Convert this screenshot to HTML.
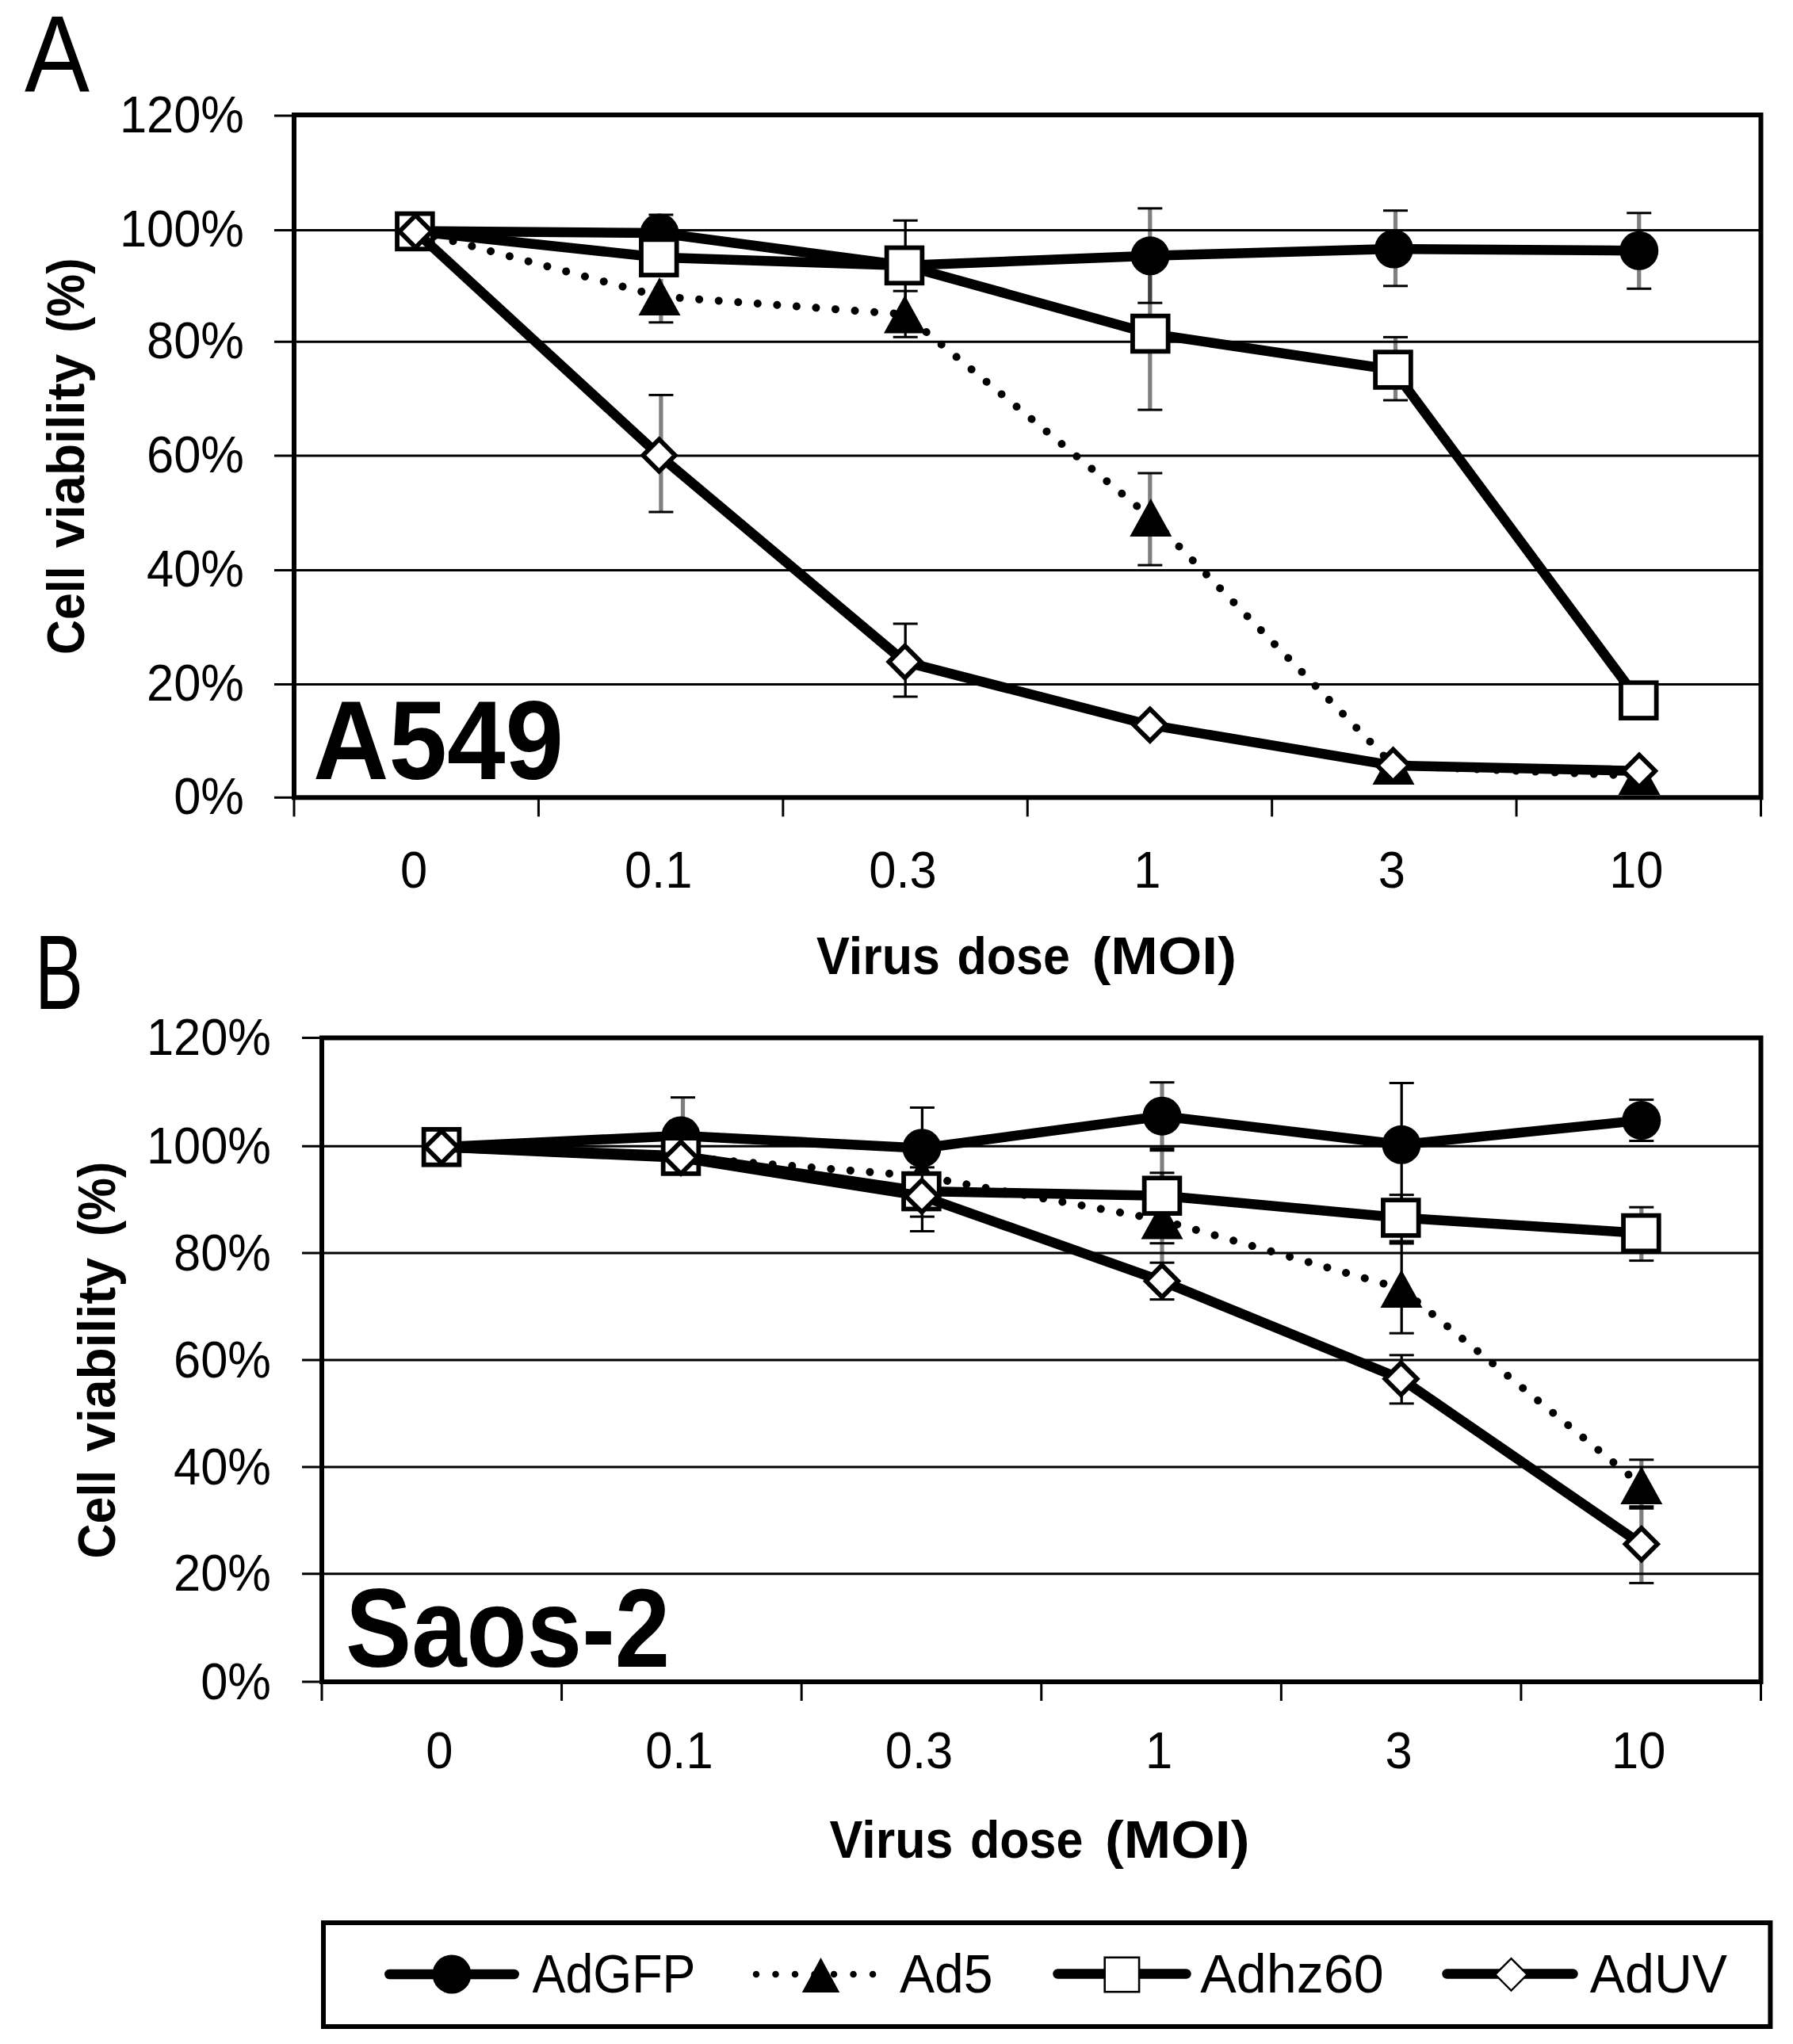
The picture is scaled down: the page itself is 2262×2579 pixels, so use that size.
<!DOCTYPE html>
<html lang="en"><head><meta charset="utf-8"><title>Cell viability vs virus dose</title>
<style>html,body{margin:0;padding:0;background:#fff}svg{display:block;filter:blur(0.7px)}</style></head>
<body>
<svg width="2262" height="2579" viewBox="0 0 2262 2579" font-family="'Liberation Sans', 'DejaVu Sans', sans-serif">
<rect width="2262" height="2579" fill="#fff"/>
<line x1="346.00" y1="290.50" x2="2221.50" y2="290.50" stroke="#000" stroke-width="3" />
<line x1="346.00" y1="431.30" x2="2221.50" y2="431.30" stroke="#000" stroke-width="3" />
<line x1="346.00" y1="575.00" x2="2221.50" y2="575.00" stroke="#000" stroke-width="3" />
<line x1="346.00" y1="719.60" x2="2221.50" y2="719.60" stroke="#000" stroke-width="3" />
<line x1="346.00" y1="863.50" x2="2221.50" y2="863.50" stroke="#000" stroke-width="3" />
<line x1="346.00" y1="146.00" x2="371.00" y2="146.00" stroke="#000" stroke-width="3" />
<line x1="346.00" y1="1006.30" x2="371.00" y2="1006.30" stroke="#000" stroke-width="3" />
<line x1="371.00" y1="1006.30" x2="371.00" y2="1030.30" stroke="#000" stroke-width="3" />
<line x1="679.42" y1="1006.30" x2="679.42" y2="1030.30" stroke="#000" stroke-width="3" />
<line x1="987.83" y1="1006.30" x2="987.83" y2="1030.30" stroke="#000" stroke-width="3" />
<line x1="1296.25" y1="1006.30" x2="1296.25" y2="1030.30" stroke="#000" stroke-width="3" />
<line x1="1604.67" y1="1006.30" x2="1604.67" y2="1030.30" stroke="#000" stroke-width="3" />
<line x1="1913.08" y1="1006.30" x2="1913.08" y2="1030.30" stroke="#000" stroke-width="3" />
<line x1="2221.50" y1="1006.30" x2="2221.50" y2="1030.30" stroke="#000" stroke-width="3" />
<polyline points="524.00,291.50 832.00,294.00 1141.00,335.00 1451.00,322.80 1758.50,314.10 2067.75,316.25" fill="none" stroke="#000" stroke-width="12.5" stroke-linejoin="round" stroke-linecap="round"/>
<line x1="833.90" y1="271.00" x2="833.90" y2="317.00" stroke="#000" stroke-width="5.2" stroke-opacity="0.5"/>
<line x1="818.40" y1="271.00" x2="849.40" y2="271.00" stroke="#000" stroke-width="3" />
<line x1="1142.20" y1="278.20" x2="1142.20" y2="392.00" stroke="#000" stroke-width="3.3" />
<line x1="1126.70" y1="278.20" x2="1157.70" y2="278.20" stroke="#000" stroke-width="3" />
<line x1="1450.80" y1="262.90" x2="1450.80" y2="382.20" stroke="#000" stroke-width="5.2" stroke-opacity="0.5"/>
<line x1="1435.30" y1="262.90" x2="1466.30" y2="262.90" stroke="#000" stroke-width="3" />
<line x1="1435.30" y1="382.20" x2="1466.30" y2="382.20" stroke="#000" stroke-width="3" />
<line x1="1760.50" y1="265.70" x2="1760.50" y2="360.80" stroke="#000" stroke-width="5.2" stroke-opacity="0.5"/>
<line x1="1745.00" y1="265.70" x2="1776.00" y2="265.70" stroke="#000" stroke-width="3" />
<line x1="1745.00" y1="360.80" x2="1776.00" y2="360.80" stroke="#000" stroke-width="3" />
<line x1="2067.75" y1="268.75" x2="2067.75" y2="364.25" stroke="#000" stroke-width="5.2" stroke-opacity="0.5"/>
<line x1="2052.25" y1="268.75" x2="2083.25" y2="268.75" stroke="#000" stroke-width="3" />
<line x1="2052.25" y1="364.25" x2="2083.25" y2="364.25" stroke="#000" stroke-width="3" />
<circle cx="524.00" cy="291.50" r="24.5" fill="#000"/>
<circle cx="832.00" cy="294.00" r="24.5" fill="#000"/>
<circle cx="1141.00" cy="335.00" r="24.5" fill="#000"/>
<circle cx="1451.00" cy="322.80" r="24.5" fill="#000"/>
<circle cx="1758.50" cy="314.10" r="24.5" fill="#000"/>
<circle cx="2067.75" cy="316.25" r="24.5" fill="#000"/>
<polyline points="524.00,291.50 832.00,374.00 1141.50,396.50 1451.80,653.00 1758.00,966.00 2068.00,979.00" fill="none" stroke="#000" stroke-width="10" stroke-linecap="round" stroke-dasharray="0.01 24.6"/>
<line x1="833.90" y1="352.00" x2="833.90" y2="406.80" stroke="#000" stroke-width="5.2" stroke-opacity="0.5"/>
<line x1="818.40" y1="406.80" x2="849.40" y2="406.80" stroke="#000" stroke-width="3" />
<line x1="1142.20" y1="367.20" x2="1142.20" y2="425.30" stroke="#000" stroke-width="3.3" />
<line x1="1126.70" y1="367.20" x2="1157.70" y2="367.20" stroke="#000" stroke-width="3" />
<line x1="1126.70" y1="425.30" x2="1157.70" y2="425.30" stroke="#000" stroke-width="3" />
<line x1="1450.80" y1="597.00" x2="1450.80" y2="713.10" stroke="#000" stroke-width="5.2" stroke-opacity="0.5"/>
<line x1="1435.30" y1="597.00" x2="1466.30" y2="597.00" stroke="#000" stroke-width="3" />
<line x1="1435.30" y1="713.10" x2="1466.30" y2="713.10" stroke="#000" stroke-width="3" />
<polygon points="832.00,350.00 858.50,398.00 805.50,398.00" fill="#000"/>
<polygon points="1141.50,372.50 1168.00,420.50 1115.00,420.50" fill="#000"/>
<polygon points="1451.80,629.00 1478.30,677.00 1425.30,677.00" fill="#000"/>
<polygon points="1758.00,942.00 1784.50,990.00 1731.50,990.00" fill="#000"/>
<polygon points="2068.00,955.00 2094.50,1003.00 2041.50,1003.00" fill="#000"/>
<polyline points="523.40,291.90 831.30,324.70 1141.00,334.90 1451.30,421.00 1757.50,466.50 2067.30,883.70" fill="none" stroke="#000" stroke-width="12.5" stroke-linejoin="round" stroke-linecap="round"/>
<line x1="1450.80" y1="325.00" x2="1450.80" y2="517.10" stroke="#000" stroke-width="5.2" stroke-opacity="0.5"/>
<line x1="1435.30" y1="517.10" x2="1466.30" y2="517.10" stroke="#000" stroke-width="3" />
<line x1="1760.50" y1="425.40" x2="1760.50" y2="505.00" stroke="#000" stroke-width="5.2" stroke-opacity="0.5"/>
<line x1="1745.00" y1="425.40" x2="1776.00" y2="425.40" stroke="#000" stroke-width="3" />
<line x1="1745.00" y1="505.00" x2="1776.00" y2="505.00" stroke="#000" stroke-width="3" />
<rect x="501.05" y="269.55" width="44.7" height="44.7" fill="#fff" stroke="#000" stroke-width="5.8"/>
<rect x="808.95" y="302.35" width="44.7" height="44.7" fill="#fff" stroke="#000" stroke-width="5.8"/>
<rect x="1118.65" y="312.55" width="44.7" height="44.7" fill="#fff" stroke="#000" stroke-width="5.8"/>
<rect x="1428.95" y="398.65" width="44.7" height="44.7" fill="#fff" stroke="#000" stroke-width="5.8"/>
<rect x="1735.15" y="444.15" width="44.7" height="44.7" fill="#fff" stroke="#000" stroke-width="5.8"/>
<rect x="2044.95" y="861.35" width="44.7" height="44.7" fill="#fff" stroke="#000" stroke-width="5.8"/>
<polyline points="524.25,292.00 831.50,574.50 1141.60,835.10 1450.80,914.70 1757.50,965.80 2068.00,972.80" fill="none" stroke="#000" stroke-width="12.5" stroke-linejoin="round" stroke-linecap="round"/>
<line x1="833.90" y1="498.40" x2="833.90" y2="646.00" stroke="#000" stroke-width="5.2" stroke-opacity="0.5"/>
<line x1="818.40" y1="498.40" x2="849.40" y2="498.40" stroke="#000" stroke-width="3" />
<line x1="818.40" y1="646.00" x2="849.40" y2="646.00" stroke="#000" stroke-width="3" />
<line x1="1142.20" y1="787.00" x2="1142.20" y2="879.00" stroke="#000" stroke-width="3.3" />
<line x1="1126.70" y1="787.00" x2="1157.70" y2="787.00" stroke="#000" stroke-width="3" />
<line x1="1126.70" y1="879.00" x2="1157.70" y2="879.00" stroke="#000" stroke-width="3" />
<polygon points="524.25,271.80 544.45,292.00 524.25,312.20 504.05,292.00" fill="#fff" stroke="#000" stroke-width="5.8" stroke-linejoin="miter"/>
<polygon points="831.50,554.30 851.70,574.50 831.50,594.70 811.30,574.50" fill="#fff" stroke="#000" stroke-width="5.8" stroke-linejoin="miter"/>
<polygon points="1141.60,814.90 1161.80,835.10 1141.60,855.30 1121.40,835.10" fill="#fff" stroke="#000" stroke-width="5.8" stroke-linejoin="miter"/>
<polygon points="1450.80,894.50 1471.00,914.70 1450.80,934.90 1430.60,914.70" fill="#fff" stroke="#000" stroke-width="5.8" stroke-linejoin="miter"/>
<polygon points="1757.50,945.60 1777.70,965.80 1757.50,986.00 1737.30,965.80" fill="#fff" stroke="#000" stroke-width="5.8" stroke-linejoin="miter"/>
<polygon points="2068.00,952.60 2088.20,972.80 2068.00,993.00 2047.80,972.80" fill="#fff" stroke="#000" stroke-width="5.8" stroke-linejoin="miter"/>
<rect x="371" y="145" width="1850.5" height="861.3" fill="none" stroke="#000" stroke-width="6"/>
<line x1="381.00" y1="1446.30" x2="2221.50" y2="1446.30" stroke="#000" stroke-width="3" />
<line x1="381.00" y1="1581.00" x2="2221.50" y2="1581.00" stroke="#000" stroke-width="3" />
<line x1="381.00" y1="1716.00" x2="2221.50" y2="1716.00" stroke="#000" stroke-width="3" />
<line x1="381.00" y1="1851.00" x2="2221.50" y2="1851.00" stroke="#000" stroke-width="3" />
<line x1="381.00" y1="1985.80" x2="2221.50" y2="1985.80" stroke="#000" stroke-width="3" />
<line x1="381.00" y1="1309.50" x2="406.00" y2="1309.50" stroke="#000" stroke-width="3" />
<line x1="381.00" y1="2122.00" x2="406.00" y2="2122.00" stroke="#000" stroke-width="3" />
<line x1="406.00" y1="2122.00" x2="406.00" y2="2146.00" stroke="#000" stroke-width="3" />
<line x1="708.58" y1="2122.00" x2="708.58" y2="2146.00" stroke="#000" stroke-width="3" />
<line x1="1011.17" y1="2122.00" x2="1011.17" y2="2146.00" stroke="#000" stroke-width="3" />
<line x1="1313.75" y1="2122.00" x2="1313.75" y2="2146.00" stroke="#000" stroke-width="3" />
<line x1="1616.33" y1="2122.00" x2="1616.33" y2="2146.00" stroke="#000" stroke-width="3" />
<line x1="1918.92" y1="2122.00" x2="1918.92" y2="2146.00" stroke="#000" stroke-width="3" />
<line x1="2221.50" y1="2122.00" x2="2221.50" y2="2146.00" stroke="#000" stroke-width="3" />
<polyline points="557.20,1447.30 859.00,1433.00 1163.00,1448.70 1466.00,1408.20 1768.00,1444.30 2070.80,1413.60" fill="none" stroke="#000" stroke-width="12.5" stroke-linejoin="round" stroke-linecap="round"/>
<line x1="861.50" y1="1384.70" x2="861.50" y2="1433.00" stroke="#000" stroke-width="5.2" stroke-opacity="0.5"/>
<line x1="846.00" y1="1384.70" x2="877.00" y2="1384.70" stroke="#000" stroke-width="3" />
<line x1="1163.40" y1="1397.50" x2="1163.40" y2="1500.00" stroke="#000" stroke-width="3.3" />
<line x1="1147.90" y1="1397.50" x2="1178.90" y2="1397.50" stroke="#000" stroke-width="3" />
<line x1="1466.00" y1="1365.70" x2="1466.00" y2="1639.60" stroke="#000" stroke-width="5.2" stroke-opacity="0.5"/>
<line x1="1450.50" y1="1365.70" x2="1481.50" y2="1365.70" stroke="#000" stroke-width="3" />
<line x1="1768.20" y1="1366.50" x2="1768.20" y2="1522.00" stroke="#000" stroke-width="3.3" />
<line x1="1752.70" y1="1366.50" x2="1783.70" y2="1366.50" stroke="#000" stroke-width="3" />
<line x1="2070.80" y1="1387.60" x2="2070.80" y2="1439.50" stroke="#000" stroke-width="5.2" stroke-opacity="0.5"/>
<line x1="2055.30" y1="1387.60" x2="2086.30" y2="1387.60" stroke="#000" stroke-width="3" />
<line x1="2055.30" y1="1439.50" x2="2086.30" y2="1439.50" stroke="#000" stroke-width="3" />
<circle cx="557.20" cy="1447.30" r="24.5" fill="#000"/>
<circle cx="859.00" cy="1433.00" r="24.5" fill="#000"/>
<circle cx="1163.00" cy="1448.70" r="24.5" fill="#000"/>
<circle cx="1466.00" cy="1408.20" r="24.5" fill="#000"/>
<circle cx="1768.00" cy="1444.30" r="24.5" fill="#000"/>
<circle cx="2070.80" cy="1413.60" r="24.5" fill="#000"/>
<polyline points="557.00,1447.30 859.00,1460.00 1163.00,1484.00 1466.00,1539.50 1768.00,1626.00 2070.80,1874.00" fill="none" stroke="#000" stroke-width="10" stroke-linecap="round" stroke-dasharray="0.01 24.6"/>
<line x1="1466.00" y1="1510.00" x2="1466.00" y2="1510.00" stroke="#000" stroke-width="5.2" stroke-opacity="0.5"/>
<line x1="1450.50" y1="1450.40" x2="1481.50" y2="1450.40" stroke="#000" stroke-width="5.5" />
<line x1="1450.50" y1="1568.70" x2="1481.50" y2="1568.70" stroke="#000" stroke-width="3" />
<line x1="1768.20" y1="1570.00" x2="1768.20" y2="1682.20" stroke="#000" stroke-width="3.3" />
<line x1="1752.70" y1="1682.20" x2="1783.70" y2="1682.20" stroke="#000" stroke-width="3" />
<line x1="2070.80" y1="1841.80" x2="2070.80" y2="1903.00" stroke="#000" stroke-width="5.2" stroke-opacity="0.5"/>
<line x1="2055.30" y1="1841.80" x2="2086.30" y2="1841.80" stroke="#000" stroke-width="3" />
<line x1="2055.30" y1="1902.00" x2="2086.30" y2="1902.00" stroke="#000" stroke-width="5.5" />
<polygon points="1163.00,1460.00 1189.50,1508.00 1136.50,1508.00" fill="#000"/>
<polygon points="1466.00,1515.50 1492.50,1563.50 1439.50,1563.50" fill="#000"/>
<polygon points="1768.00,1602.00 1794.50,1650.00 1741.50,1650.00" fill="#000"/>
<polygon points="2070.80,1850.00 2097.30,1898.00 2044.30,1898.00" fill="#000"/>
<polyline points="557.00,1447.30 859.00,1458.50 1162.40,1503.10 1466.00,1508.70 1767.30,1536.50 2070.40,1556.00" fill="none" stroke="#000" stroke-width="12.5" stroke-linejoin="round" stroke-linecap="round"/>
<line x1="1163.40" y1="1472.90" x2="1163.40" y2="1535.10" stroke="#000" stroke-width="3.3" />
<line x1="1147.90" y1="1472.90" x2="1178.90" y2="1472.90" stroke="#000" stroke-width="3" />
<line x1="1147.90" y1="1535.10" x2="1178.90" y2="1535.10" stroke="#000" stroke-width="3" />
<line x1="1466.00" y1="1479.80" x2="1466.00" y2="1537.60" stroke="#000" stroke-width="5.2" stroke-opacity="0.5"/>
<line x1="1450.50" y1="1479.80" x2="1481.50" y2="1479.80" stroke="#000" stroke-width="3" />
<line x1="1768.20" y1="1507.60" x2="1768.20" y2="1566.40" stroke="#000" stroke-width="3.3" />
<line x1="1752.70" y1="1507.60" x2="1783.70" y2="1507.60" stroke="#000" stroke-width="3" />
<line x1="1752.70" y1="1567.50" x2="1783.70" y2="1567.50" stroke="#000" stroke-width="6" />
<line x1="2070.80" y1="1523.20" x2="2070.80" y2="1590.60" stroke="#000" stroke-width="5.2" stroke-opacity="0.5"/>
<line x1="2055.30" y1="1523.20" x2="2086.30" y2="1523.20" stroke="#000" stroke-width="3" />
<line x1="2055.30" y1="1590.60" x2="2086.30" y2="1590.60" stroke="#000" stroke-width="3" />
<rect x="534.65" y="1424.95" width="44.7" height="44.7" fill="#fff" stroke="#000" stroke-width="5.8"/>
<rect x="836.65" y="1436.15" width="44.7" height="44.7" fill="#fff" stroke="#000" stroke-width="5.8"/>
<rect x="1140.05" y="1480.75" width="44.7" height="44.7" fill="#fff" stroke="#000" stroke-width="5.8"/>
<rect x="1443.65" y="1486.35" width="44.7" height="44.7" fill="#fff" stroke="#000" stroke-width="5.8"/>
<rect x="1744.95" y="1514.15" width="44.7" height="44.7" fill="#fff" stroke="#000" stroke-width="5.8"/>
<rect x="2048.05" y="1533.65" width="44.7" height="44.7" fill="#fff" stroke="#000" stroke-width="5.8"/>
<polyline points="557.00,1447.30 859.00,1460.80 1163.00,1509.20 1466.00,1616.40 1767.50,1739.80 2070.80,1948.30" fill="none" stroke="#000" stroke-width="12.5" stroke-linejoin="round" stroke-linecap="round"/>
<line x1="1163.40" y1="1464.50" x2="1163.40" y2="1553.50" stroke="#000" stroke-width="3.3" />
<line x1="1147.90" y1="1553.50" x2="1178.90" y2="1553.50" stroke="#000" stroke-width="3" />
<line x1="1466.00" y1="1593.20" x2="1466.00" y2="1639.60" stroke="#000" stroke-width="5.2" stroke-opacity="0.5"/>
<line x1="1450.50" y1="1593.20" x2="1481.50" y2="1593.20" stroke="#000" stroke-width="3" />
<line x1="1450.50" y1="1639.60" x2="1481.50" y2="1639.60" stroke="#000" stroke-width="3" />
<line x1="1768.20" y1="1709.80" x2="1768.20" y2="1770.90" stroke="#000" stroke-width="3.3" />
<line x1="1752.70" y1="1709.80" x2="1783.70" y2="1709.80" stroke="#000" stroke-width="3" />
<line x1="1752.70" y1="1770.90" x2="1783.70" y2="1770.90" stroke="#000" stroke-width="3" />
<line x1="2070.80" y1="1899.20" x2="2070.80" y2="1997.40" stroke="#000" stroke-width="5.2" stroke-opacity="0.5"/>
<line x1="2055.30" y1="1997.40" x2="2086.30" y2="1997.40" stroke="#000" stroke-width="3" />
<polygon points="557.00,1427.10 577.20,1447.30 557.00,1467.50 536.80,1447.30" fill="#fff" stroke="#000" stroke-width="5.8" stroke-linejoin="miter"/>
<polygon points="859.00,1440.60 879.20,1460.80 859.00,1481.00 838.80,1460.80" fill="#fff" stroke="#000" stroke-width="5.8" stroke-linejoin="miter"/>
<polygon points="1163.00,1489.00 1183.20,1509.20 1163.00,1529.40 1142.80,1509.20" fill="#fff" stroke="#000" stroke-width="5.8" stroke-linejoin="miter"/>
<polygon points="1466.00,1596.20 1486.20,1616.40 1466.00,1636.60 1445.80,1616.40" fill="#fff" stroke="#000" stroke-width="5.8" stroke-linejoin="miter"/>
<polygon points="1767.50,1719.60 1787.70,1739.80 1767.50,1760.00 1747.30,1739.80" fill="#fff" stroke="#000" stroke-width="5.8" stroke-linejoin="miter"/>
<polygon points="2070.80,1928.10 2091.00,1948.30 2070.80,1968.50 2050.60,1948.30" fill="#fff" stroke="#000" stroke-width="5.8" stroke-linejoin="miter"/>
<rect x="406" y="1309.5" width="1815.5" height="812.5" fill="none" stroke="#000" stroke-width="6"/>
<text x="31.00" y="116.00" font-size="138" text-anchor="start" textLength="82.0" lengthAdjust="spacingAndGlyphs" fill="#000" >A</text>
<text x="44.00" y="1272.50" font-size="134" text-anchor="start" textLength="61.0" lengthAdjust="spacingAndGlyphs" fill="#000" >B</text>
<text x="308.00" y="166.50" font-size="64" text-anchor="end" textLength="157.1" lengthAdjust="spacingAndGlyphs" fill="#000" >120%</text>
<text x="308.00" y="311.00" font-size="64" text-anchor="end" textLength="157.1" lengthAdjust="spacingAndGlyphs" fill="#000" >100%</text>
<text x="308.00" y="451.80" font-size="64" text-anchor="end" textLength="123.0" lengthAdjust="spacingAndGlyphs" fill="#000" >80%</text>
<text x="308.00" y="595.50" font-size="64" text-anchor="end" textLength="123.0" lengthAdjust="spacingAndGlyphs" fill="#000" >60%</text>
<text x="308.00" y="740.10" font-size="64" text-anchor="end" textLength="123.0" lengthAdjust="spacingAndGlyphs" fill="#000" >40%</text>
<text x="308.00" y="884.00" font-size="64" text-anchor="end" textLength="123.0" lengthAdjust="spacingAndGlyphs" fill="#000" >20%</text>
<text x="308.00" y="1026.80" font-size="64" text-anchor="end" textLength="88.8" lengthAdjust="spacingAndGlyphs" fill="#000" >0%</text>
<text x="342.00" y="1331.00" font-size="64" text-anchor="end" textLength="157.1" lengthAdjust="spacingAndGlyphs" fill="#000" >120%</text>
<text x="342.00" y="1467.80" font-size="64" text-anchor="end" textLength="157.1" lengthAdjust="spacingAndGlyphs" fill="#000" >100%</text>
<text x="342.00" y="1602.50" font-size="64" text-anchor="end" textLength="123.0" lengthAdjust="spacingAndGlyphs" fill="#000" >80%</text>
<text x="342.00" y="1737.50" font-size="64" text-anchor="end" textLength="123.0" lengthAdjust="spacingAndGlyphs" fill="#000" >60%</text>
<text x="342.00" y="1872.50" font-size="64" text-anchor="end" textLength="123.0" lengthAdjust="spacingAndGlyphs" fill="#000" >40%</text>
<text x="342.00" y="2007.30" font-size="64" text-anchor="end" textLength="123.0" lengthAdjust="spacingAndGlyphs" fill="#000" >20%</text>
<text x="342.00" y="2143.50" font-size="64" text-anchor="end" textLength="88.8" lengthAdjust="spacingAndGlyphs" fill="#000" >0%</text>
<text x="522.21" y="1120.00" font-size="64" text-anchor="middle" textLength="34.2" lengthAdjust="spacingAndGlyphs" fill="#000" >0</text>
<text x="554.29" y="2231.00" font-size="64" text-anchor="middle" textLength="34.2" lengthAdjust="spacingAndGlyphs" fill="#000" >0</text>
<text x="830.62" y="1120.00" font-size="64" text-anchor="middle" textLength="85.4" lengthAdjust="spacingAndGlyphs" fill="#000" >0.1</text>
<text x="856.88" y="2231.00" font-size="64" text-anchor="middle" textLength="85.4" lengthAdjust="spacingAndGlyphs" fill="#000" >0.1</text>
<text x="1139.04" y="1120.00" font-size="64" text-anchor="middle" textLength="85.4" lengthAdjust="spacingAndGlyphs" fill="#000" >0.3</text>
<text x="1159.46" y="2231.00" font-size="64" text-anchor="middle" textLength="85.4" lengthAdjust="spacingAndGlyphs" fill="#000" >0.3</text>
<text x="1447.46" y="1120.00" font-size="64" text-anchor="middle" textLength="34.2" lengthAdjust="spacingAndGlyphs" fill="#000" >1</text>
<text x="1462.04" y="2231.00" font-size="64" text-anchor="middle" textLength="34.2" lengthAdjust="spacingAndGlyphs" fill="#000" >1</text>
<text x="1755.88" y="1120.00" font-size="64" text-anchor="middle" textLength="34.2" lengthAdjust="spacingAndGlyphs" fill="#000" >3</text>
<text x="1764.62" y="2231.00" font-size="64" text-anchor="middle" textLength="34.2" lengthAdjust="spacingAndGlyphs" fill="#000" >3</text>
<text x="2064.29" y="1120.00" font-size="64" text-anchor="middle" textLength="68.3" lengthAdjust="spacingAndGlyphs" fill="#000" >10</text>
<text x="2067.21" y="2231.00" font-size="64" text-anchor="middle" textLength="68.3" lengthAdjust="spacingAndGlyphs" fill="#000" >10</text>
<text x="1030.00" y="1229.00" font-size="67" text-anchor="start" font-weight="bold" textLength="156.0" lengthAdjust="spacingAndGlyphs" fill="#000" >Virus</text>
<text x="1207.50" y="1229.00" font-size="67" text-anchor="start" font-weight="bold" textLength="142.5" lengthAdjust="spacingAndGlyphs" fill="#000" >dose</text>
<text x="1377.50" y="1229.00" font-size="67" text-anchor="start" font-weight="bold" textLength="182.48" lengthAdjust="spacingAndGlyphs" fill="#000" >(MOI)</text>
<text x="1046.50" y="2343.50" font-size="67" text-anchor="start" font-weight="bold" textLength="156.0" lengthAdjust="spacingAndGlyphs" fill="#000" >Virus</text>
<text x="1224.00" y="2343.50" font-size="67" text-anchor="start" font-weight="bold" textLength="142.5" lengthAdjust="spacingAndGlyphs" fill="#000" >dose</text>
<text x="1394.00" y="2343.50" font-size="67" text-anchor="start" font-weight="bold" textLength="182.48" lengthAdjust="spacingAndGlyphs" fill="#000" >(MOI)</text>
<g transform="translate(106.2,826.1) rotate(-90)">
<text x="0.00" y="0.00" font-size="67" text-anchor="start" font-weight="bold" textLength="111.7" lengthAdjust="spacingAndGlyphs" fill="#000" >Cell</text>
<text x="134.60" y="0.00" font-size="67" text-anchor="start" font-weight="bold" textLength="244.78" lengthAdjust="spacingAndGlyphs" fill="#000" >viability</text>
<text x="406.30" y="0.00" font-size="67" text-anchor="start" font-weight="bold" textLength="94.21" lengthAdjust="spacingAndGlyphs" fill="#000" >(%)</text>
</g>
<g transform="translate(144.8,1966.4) rotate(-90)">
<text x="0.00" y="0.00" font-size="67" text-anchor="start" font-weight="bold" textLength="111.7" lengthAdjust="spacingAndGlyphs" fill="#000" >Cell</text>
<text x="134.60" y="0.00" font-size="67" text-anchor="start" font-weight="bold" textLength="244.78" lengthAdjust="spacingAndGlyphs" fill="#000" >viability</text>
<text x="406.30" y="0.00" font-size="67" text-anchor="start" font-weight="bold" textLength="94.21" lengthAdjust="spacingAndGlyphs" fill="#000" >(%)</text>
</g>
<text x="395.00" y="983.00" font-size="141" text-anchor="start" font-weight="bold" textLength="315.95" lengthAdjust="spacingAndGlyphs" fill="#000" >A549</text>
<text x="436.00" y="2102.50" font-size="141" text-anchor="start" font-weight="bold" textLength="409.04" lengthAdjust="spacingAndGlyphs" fill="#000" >Saos-2</text>
<rect x="408" y="2426" width="1825.4" height="131" fill="#fff" stroke="#000" stroke-width="6"/>
<line x1="491.30" y1="2491.00" x2="648.70" y2="2491.00" stroke="#000" stroke-width="12.5" stroke-linecap="round"/>
<circle cx="570.00" cy="2491.00" r="24.5" fill="#000"/>
<line x1="954" y1="2491" x2="1102" y2="2491" stroke="#000" stroke-width="8.5" stroke-linecap="round" stroke-dasharray="0.01 24.5"/>
<polygon points="1035.50,2470.00 1059.25,2514.00 1011.75,2514.00" fill="#000"/>
<line x1="1334.50" y1="2490.50" x2="1496.50" y2="2490.50" stroke="#000" stroke-width="12.5" stroke-linecap="round"/>
<rect x="1393.70" y="2469.80" width="43.4" height="43.4" fill="#fff" stroke="#000" stroke-width="2.6"/>
<line x1="1825.50" y1="2490.50" x2="1984.50" y2="2490.50" stroke="#000" stroke-width="12.5" stroke-linecap="round"/>
<polygon points="1906.50,2471.10 1926.70,2491.30 1906.50,2511.50 1886.30,2491.30" fill="#fff" stroke="#000" stroke-width="2.4" stroke-linejoin="miter"/>
<text x="671.50" y="2513.60" font-size="68" text-anchor="start" textLength="205.99" lengthAdjust="spacingAndGlyphs" fill="#000" >AdGFP</text>
<text x="1135.00" y="2513.60" font-size="68" text-anchor="start" textLength="117.52" lengthAdjust="spacingAndGlyphs" fill="#000" >Ad5</text>
<text x="1514.20" y="2513.60" font-size="68" text-anchor="start" textLength="231.57" lengthAdjust="spacingAndGlyphs" fill="#000" >Adhz60</text>
<text x="2005.80" y="2513.60" font-size="68" text-anchor="start" textLength="173.22" lengthAdjust="spacingAndGlyphs" fill="#000" >AdUV</text>
</svg>
</body></html>
